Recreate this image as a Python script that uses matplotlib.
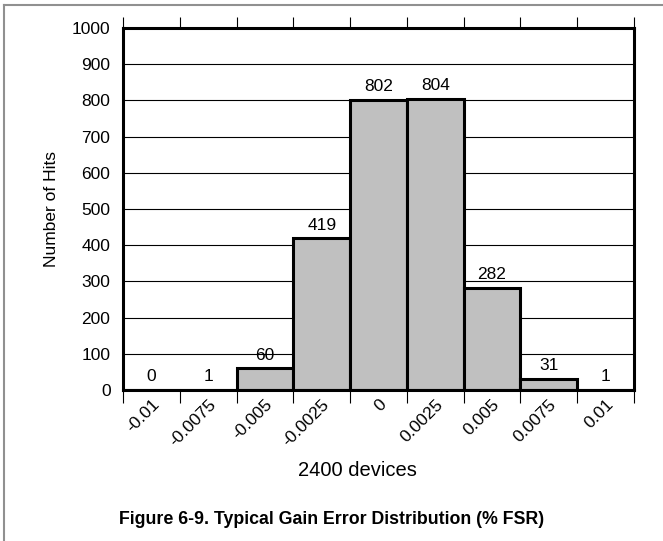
import numpy as np
from matplotlib import pyplot as plt
from matplotlib.lines import Line2D

# histogram of gain error, 2400 devices
bins = ['-0.01', '-0.0075', '-0.005', '-0.0025', '0', '0.0025', '0.005', '0.0075', '0.01']
hits = [0, 1, 60, 419, 802, 804, 282, 31, 1]

plt.rcParams['font.family'] = ['Liberation Sans', 'DejaVu Sans']

fig = plt.figure(figsize=(6.63, 5.41), dpi=100)
ax = fig.add_axes([123/663, 1 - 390/541, 511/663, 362/541])

xpos = np.arange(len(bins))
edges = np.arange(-0.5, len(bins), 1.0)
ax.bar(xpos, hits, width=1.0, color='#c0c0c0', edgecolor='black', linewidth=2.2, zorder=3)

# value labels above each bar
for i in range(len(hits)):
    ax.annotate(str(hits[i]), (xpos[i], hits[i]), xytext=(0, 4), textcoords='offset points',
                ha='center', va='bottom', fontsize=12.5, zorder=4)

ax.set_xlim(-0.5, len(bins) - 0.5)
ax.set_ylim(0, 1000)
ax.set_yticks(np.arange(0, 1001, 100))
ax.yaxis.grid(True, color='black', linewidth=0.8, zorder=0)
ax.set_axisbelow(True)
ax.tick_params(axis='y', length=0, pad=9, labelsize=12.5)

# category boundaries as major ticks, labels on minor ticks
ax.set_xticks(edges)
ax.set_xticklabels([])
ax.tick_params(axis='x', which='major', direction='out', length=9.5, width=0.8,
               top=False, bottom=True)
ax.set_xticks(xpos, minor=True)
ax.set_xticklabels(bins, minor=True, rotation=45, ha='right', va='top',
                   rotation_mode='anchor', fontsize=12.5)
ax.tick_params(axis='x', which='minor', length=0, pad=5)

# shorter ticks along the top edge
top = ax.secondary_xaxis('top')
top.set_xticks(edges)
top.set_xticklabels([])
top.tick_params(direction='out', length=8, width=0.8)
top.spines['top'].set_visible(False)

for s in ax.spines.values():
    s.set_linewidth(2.2)
    s.set_zorder(5)

ax.set_ylabel('Number of Hits', fontsize=12.5, labelpad=9)
fig.text(357/663, 1 - 471/541, '2400 devices', ha='center', va='center', fontsize=14.5)
fig.text(0.5, 1 - 520/541, 'Figure 6-9. Typical Gain Error Distribution (% FSR)',
         ha='center', va='center', fontsize=12.8, fontweight='bold')

# page frame lines
fig.add_artist(Line2D([4/663, 1], [1 - 5/541, 1 - 5/541], transform=fig.transFigure,
                      color='#909090', linewidth=1.5))
fig.add_artist(Line2D([4/663, 4/663], [0, 1 - 5/541], transform=fig.transFigure,
                      color='#909090', linewidth=1.5))

fig.savefig('out.png', dpi=100)
